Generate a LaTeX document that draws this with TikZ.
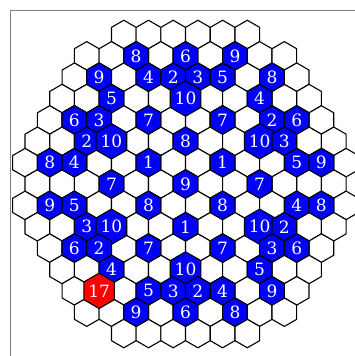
\documentclass[tikz,border=0pt]{standalone}
\usepackage{fontspec}
\setmainfont{DejaVu Serif}
\usetikzlibrary{shapes.geometric}
\tikzset{
  cell/.style={regular polygon, regular polygon sides=6, shape border rotate=30,
    minimum size=28.5pt, inner sep=0pt, draw=black, line width=1.1pt, fill=white},
  bluecell/.style={cell, fill=blue, text=white, font=\fontsize{17}{18}\selectfont},
  redcell/.style={cell, fill=red, text=white, font=\fontsize{17}{18}\selectfont},
  frameline/.style={draw=gray, line width=1pt}
}
\begin{document}
\begin{tikzpicture}[x=1pt,y=-1pt]
\useasboundingbox (0,0) rectangle (355,356);
\coordinate (f1) at (355,10);
\coordinate (f2) at (10,10);
\coordinate (f3) at (10,356);
\draw[frameline] (f1) -- (f2) -- (f3);
\foreach \r/\a/\b in {0/8/18, 1/5/21, 2/4/22, 3/3/23, 4/2/24, 5/1/25, 6/0/26, 7/1/25, 8/0/26, 9/1/25, 10/2/24, 11/3/23, 12/4/22, 13/5/21, 14/8/18} {
  \pgfmathtruncatemacro\c{\a+2}
  \foreach \k in {\a,\c,...,\b} {
    \node[cell] (c-\r-\k) at ({25+12.35*\k},{34.5+21.36*\r}) {};
  }
}
\foreach \r/\k/\t in {1/9/8, 1/13/6, 1/17/9,
  2/6/9, 2/10/4, 2/12/2, 2/14/3, 2/16/5, 2/20/8,
  3/7/5, 3/13/10, 3/19/4,
  4/4/6, 4/6/3, 4/10/7, 4/16/7, 4/20/2, 4/22/6,
  5/5/2, 5/7/10, 5/13/8, 5/19/10, 5/21/3,
  6/2/8, 6/4/4, 6/10/1, 6/16/1, 6/22/5, 6/24/9,
  7/7/7, 7/13/9, 7/19/7,
  8/2/9, 8/4/5, 8/10/8, 8/16/8, 8/22/4, 8/24/8,
  9/5/3, 9/7/10, 9/13/1, 9/19/10, 9/21/2,
  10/4/6, 10/6/2, 10/10/7, 10/16/7, 10/20/3, 10/22/6,
  11/7/4, 11/13/10, 11/19/5,
  12/10/5, 12/12/3, 12/14/2, 12/16/4, 12/20/9,
  13/9/9, 13/13/6, 13/17/8} {
  \node[bluecell] (n-\r-\k) at (c-\r-\k) {\t};
}
\node[redcell] (n-12-6) at (c-12-6) {17};
\end{tikzpicture}
\end{document}
